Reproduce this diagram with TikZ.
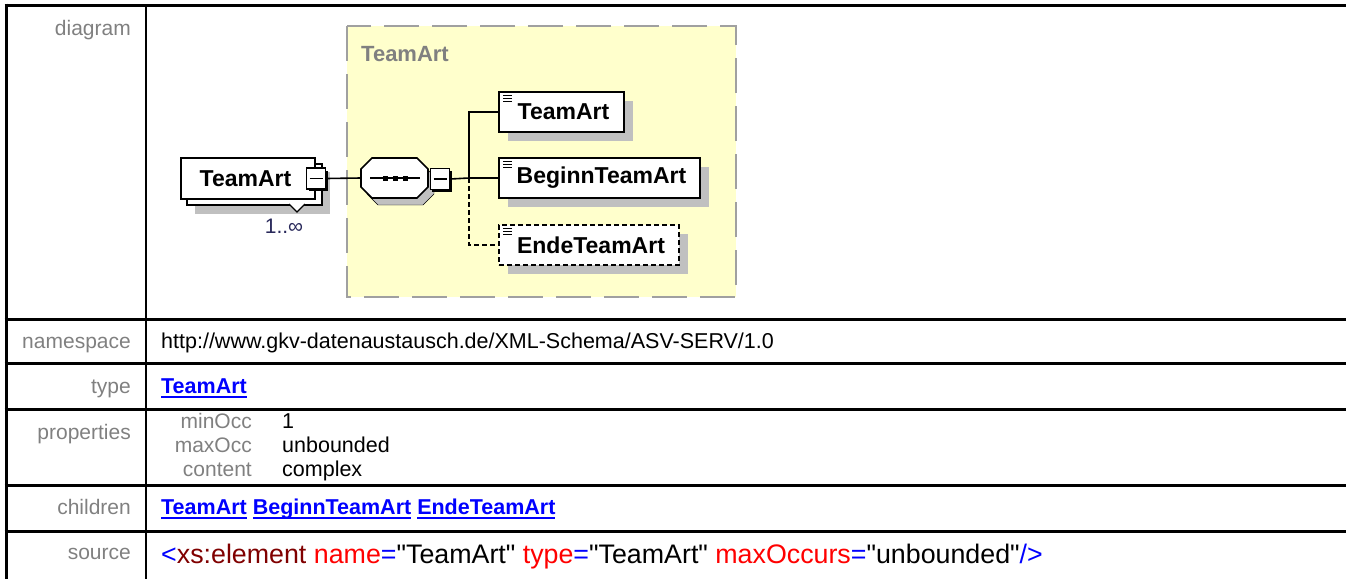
\documentclass[tikz,border=0pt]{standalone}
\usepackage{fontspec}
\setmainfont{Liberation Sans}
\newfontfamily\codefont{Liberation Sans}
\usetikzlibrary{calc}

\definecolor{labelgray}{RGB}{128,128,128}
\definecolor{linkblue}{RGB}{0,0,255}
\definecolor{tagdark}{RGB}{128,0,0}
\definecolor{attrred}{RGB}{255,0,0}
\definecolor{groupyellow}{RGB}{255,255,204}
\definecolor{groupgray}{RGB}{160,160,160}
\definecolor{shadowgray}{RGB}{192,192,192}
\definecolor{multnavy}{RGB}{40,40,90}

\newsavebox\linkbox
\newcommand{\linkword}[1]{\sbox\linkbox{#1}\rlap{\rule[-4.5pt]{\wd\linkbox}{2pt}}\usebox\linkbox}
\def\octagon[#1](#2,#3){\draw[#1] (#2+11,#3) -- (#2+56,#3) -- (#2+67,#3+11) -- (#2+67,#3+29) -- (#2+56,#3+40) -- (#2+11,#3+40) -- (#2,#3+29) -- (#2,#3+11) -- cycle;}

\begin{document}
\begin{tikzpicture}[x=1pt, y=-1pt,
	rule/.style={line width=3pt},
	rowlabel/.style={anchor=base east, inner sep=0pt, text=labelgray, font=\fontsize{21}{24}\selectfont},
	rowtext/.style={anchor=base west, inner sep=0pt, font=\fontsize{21.5}{24}\selectfont},
	rowlink/.style={rowtext, text=linkblue, font=\fontsize{21.5}{24}\selectfont\bfseries},
	elem/.style={draw, line width=1.6pt, fill=white, minimum height=40pt, inner sep=0pt, font=\fontsize{23}{25}\selectfont\bfseries},
	optelem/.style={elem, dash pattern=on 5pt off 3pt},
	shade/.style={fill=shadowgray},
	minusbox/.style={draw, line width=1.6pt, fill=white, minimum width=19pt, minimum height=21pt, inner sep=0pt},
	conn/.style={line width=1.6pt},
	optconn/.style={conn, dash pattern=on 5pt off 3pt},
	iconline/.style={line width=1pt}]
		%%%%% START %%%%%
		\useasboundingbox (0,0) rectangle (1346,579);
		
		% table rules
		\foreach \y in {5,319,363,409,485,531}
			\draw[rule] (4.5,\y) -- (1346,\y);
		\draw[rule] (6,3.5) -- (6,579);
		\draw[line width=2pt] (146,5) -- (146,579);
		
		% row labels
		\node[rowlabel] (ldiagram) at (131,35.5) {diagram};
		\node[rowlabel] (lnamespace) at (131,348) {namespace};
		\node[rowlabel] (ltype) at (131,393) {type};
		\node[rowlabel] (lproperties) at (131,439) {properties};
		\node[rowlabel] (lchildren) at (131,514) {children};
		\node[rowlabel] (lsource) at (131,559) {source};
		
		% row contents
		\node[rowtext] (namespace) at (161,348) {http://www.gkv-datenaustausch.de/XML-Schema/ASV-SERV/1.0};
		\node[rowlink] (typelink) at (161,393) {\linkword{TeamArt}};
		\node[rowlabel] (pmin) at (252,428) {minOcc};
		\node[rowlabel] (pmax) at (252,452) {maxOcc};
		\node[rowlabel] (pcontent) at (252,476) {content};
		\node[rowtext] (vmin) at (282,428) {1};
		\node[rowtext] (vmax) at (282,452) {unbounded};
		\node[rowtext] (vcontent) at (282,476) {complex};
		\node[rowlink] (childlinks) at (161,514) {\linkword{TeamArt} \linkword{BeginnTeamArt} \linkword{EndeTeamArt}};
		\node[rowtext, font=\codefont\fontsize{26.8}{30}\selectfont] (sourcetext) at (161,563) {\textcolor{linkblue}{<}\textcolor{tagdark}{xs:element} \textcolor{attrred}{name}\textcolor{linkblue}{=}"TeamArt" \textcolor{attrred}{type}\textcolor{linkblue}{=}"TeamArt" \textcolor{attrred}{maxOccurs}\textcolor{linkblue}{=}"unbounded"\textcolor{linkblue}{/>}};
		
		% complex type group
		\draw[draw=groupgray, fill=groupyellow, line width=2.5pt, dash pattern=on 35pt off 13pt] (347,26) rectangle (736,297);
		\node[anchor=base west, inner sep=0pt, text=labelgray, font=\fontsize{22}{25}\selectfont\bfseries] (grouplabel) at (361,61) {TeamArt};
		
		% root element, repeated
		\fill[shade] (195,172) rectangle (330,214);
		\draw[line width=1.6pt, fill=white] (187,164) rectangle (322,205);
		\node[elem, minimum width=134pt, minimum height=41pt] (root) at (248,178.5) {TeamArt\hspace*{5pt}};
		\fill (309,171) rectangle (328,191);
		\node[minusbox] (rootminus) at (316,178.5) {\rule{13pt}{1.6pt}};
		\draw[line width=1.2pt, fill=white] (289,204) -- (297,212) -- (305,204);
		\node[font=\fontsize{21}{24}\selectfont, text=multnavy, inner sep=0pt] (mult) at (284,226) {1..∞};
		
		% sequence
		\octagon[shade](367,165)
		\octagon[line width=1.6pt, fill=white](361,158)
		\node[minimum width=67pt, minimum height=40pt, inner sep=0pt] (seq) at (394.5,178) {};
		\draw[conn] (370,178) -- (420,178);
		\foreach \x in {385,395,405}
			\fill (\x-2.5,175.5) rectangle (\x+2.5,180.5);
		\fill (432,171) rectangle (452,192);
		\node[minusbox] (seqminus) at (440,179) {\rule{13pt}{1.6pt}};
		
		% children
		\fill[shade] (508,101) rectangle (633,141);
		\fill[shade] (508,167) rectangle (709,207);
		\fill[shade] (508,234) rectangle (688,274);
		\node[elem, minimum width=125pt] (cteam) at (561.5,112) {\hspace*{4pt}TeamArt};
		\node[elem, minimum width=201pt] (cbeginn) at (599.5,178) {\hspace*{4pt}BeginnTeamArt};
		\node[optelem, minimum width=180pt] (cende) at (589,245) {\hspace*{4pt}EndeTeamArt};
		\foreach \y in {92,158,225}
			\foreach \d in {3,6,9}
				\draw[iconline] (503,\y+\d) -- (512,\y+\d);
		
		% connectors
		\coordinate (trunk) at (469,178);
		\draw[conn] (rootminus.east) -- (seq.west);
		\draw[conn] (seqminus.east) -- (trunk) -- (cbeginn.west);
		\draw[conn] (trunk) |- (cteam.west);
		\draw[optconn] (trunk) |- (cende.west);
		%%%%% END %%%%%
\end{tikzpicture}
\end{document}
